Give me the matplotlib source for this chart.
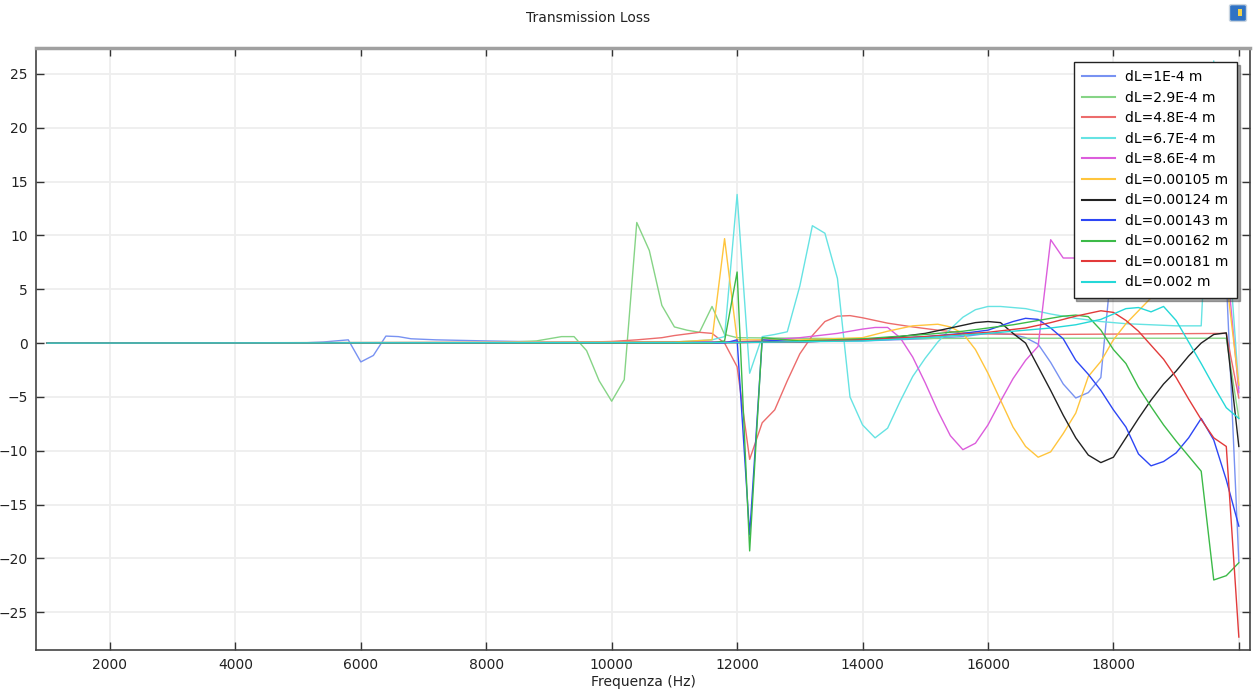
import matplotlib
matplotlib.use("Agg")
import matplotlib.pyplot as plt
from matplotlib.patches import FancyBboxPatch

# transmission loss curves for each gap length dL (frequency in Hz, TL in dB)
labels = ["dL=1E-4 m", "dL=2.9E-4 m", "dL=4.8E-4 m", "dL=6.7E-4 m", "dL=8.6E-4 m",
          "dL=0.00105 m", "dL=0.00124 m", "dL=0.00143 m", "dL=0.00162 m",
          "dL=0.00181 m", "dL=0.002 m"]
colors = ["#7892f2", "#86d486", "#ec6c6c", "#66e3e3", "#dc5ddc", "#ffc53d",
          "#222222", "#2d46f5", "#3cba48", "#e23a3a", "#25d8d8"]

f_1 = [1000, 5000, 5400, 5600, 5800, 6000, 6200, 6400, 6600, 6800, 7200, 8000, 9000,
       10000, 12000, 14000, 15000, 15600, 16000, 16400, 16600, 16800, 17000, 17200,
       17400, 17600, 17800, 18000, 18200, 18600, 19000, 19400, 19800, 20000]
tl_1 = [0.0, 0.0, 0.1, 0.2, 0.3, -1.75, -1.15, 0.65, 0.6, 0.4, 0.3, 0.2, 0.1,
        0.1, 0.1, 0.2, 0.4, 0.6, 0.9, 0.8, 0.5, -0.1, -1.8, -3.8,
        -5.1, -4.6, -3.2, 9.0, 10.5, 10.0, 9.0, 8.5, 6.0, -20.3]

f_2 = [1000, 8000, 8800, 9200, 9400, 9600, 9800, 10000, 10200, 10400, 10600, 10800,
       11000, 11200, 11400, 11600, 11800, 12000, 14000, 16000, 19800, 20000]
tl_2 = [0.0, 0.0, 0.2, 0.6, 0.6, -0.7, -3.5, -5.4, -3.4, 11.2, 8.6, 3.5,
        1.5, 1.2, 1.0, 3.4, 0.8, 0.5, 0.4, 0.45, 0.45, -7.0]

f_3 = [1000, 9000, 10000, 10400, 10800, 11000, 11200, 11400, 11600, 11800, 12000,
       12200, 12400, 12600, 12800, 13000, 13200, 13400, 13600, 13800, 14000, 14200,
       14400, 14800, 15200, 15600, 16000, 17000, 19800, 20000]
tl_3 = [0.0, 0.0, 0.15, 0.3, 0.5, 0.7, 0.85, 1.0, 0.9, 0.0, -2.2,
        -10.8, -7.4, -6.2, -3.5, -1.0, 0.7, 2.0, 2.5, 2.55, 2.35, 2.1,
        1.85, 1.5, 1.2, 0.95, 0.85, 0.8, 0.9, -5.1]

f_4 = [1000, 11000, 11600, 11800, 12000, 12200, 12400, 12600, 12800, 13000, 13200,
       13400, 13600, 13800, 14000, 14200, 14400, 14600, 14800, 15000, 15200, 15400,
       15600, 15800, 16000, 16200, 16600, 17000, 17400, 17800, 18200, 18600, 19000,
       19400, 19600, 19800, 20000]
tl_4 = [0.0, 0.1, 0.3, 0.6, 13.8, -2.8, 0.6, 0.8, 1.05, 5.3, 10.9,
        10.2, 6.0, -5.0, -7.6, -8.8, -7.9, -5.4, -3.1, -1.4, 0.1, 1.3,
        2.4, 3.1, 3.4, 3.4, 3.2, 2.7, 2.3, 2.0, 1.8, 1.7, 1.6,
        1.6, 26.2, 12.0, -4.2]

f_5 = [1000, 12000, 13000, 13600, 13800, 14000, 14200, 14400, 14600, 14800, 15000,
       15200, 15400, 15600, 15800, 16000, 16200, 16400, 16600, 16800, 17000, 17200,
       17400, 17800, 18400, 19000, 19400, 19800, 20000]
tl_5 = [0.0, 0.1, 0.5, 0.9, 1.1, 1.3, 1.45, 1.45, 0.5, -1.3, -3.7,
        -6.3, -8.6, -9.9, -9.3, -7.6, -5.4, -3.3, -1.6, -0.3, 9.6, 7.9,
        7.9, 8.5, 9.0, 9.5, 9.5, 8.0, -4.6]

f_6 = [1000, 11000, 11600, 11800, 12000, 13000, 14000, 14400, 14800, 15200, 15400,
       15600, 15800, 16000, 16200, 16400, 16600, 16800, 17000, 17200, 17400, 17600,
       17800, 18000, 18200, 18400, 18600, 18800, 19200, 19600, 19800, 20000]
tl_6 = [0.0, 0.1, 0.3, 9.7, 0.3, 0.3, 0.5, 1.1, 1.6, 1.75, 1.5,
        0.9, -0.6, -2.8, -5.3, -7.8, -9.6, -10.6, -10.1, -8.4, -6.5, -3.1,
        -1.7, 0.3, 1.8, 3.0, 4.2, 5.5, 7.0, 7.0, 6.0, -3.9]

f_7 = [1000, 12000, 13000, 14000, 14600, 15000, 15400, 15800, 16000, 16200, 16400,
       16600, 16800, 17000, 17200, 17400, 17600, 17800, 18000, 18200, 18400, 18600,
       18800, 19000, 19200, 19400, 19600, 19800, 20000]
tl_7 = [0.0, 0.05, 0.15, 0.3, 0.6, 0.9, 1.4, 1.9, 2.0, 1.9, 0.9,
        0.0, -2.2, -4.4, -6.7, -8.8, -10.4, -11.1, -10.6, -8.8, -7.0, -5.3,
        -3.8, -2.6, -1.2, 0.0, 0.8, 0.95, -9.6]

f_8 = [1000, 11800, 12000, 12200, 12400, 13000, 14000, 15000, 15600, 16000, 16400,
       16600, 16800, 17000, 17200, 17400, 17600, 17800, 18000, 18200, 18400, 18600,
       18800, 19000, 19200, 19400, 19600, 19800, 20000]
tl_8 = [0.0, 0.0, 0.3, -17.8, 0.3, 0.1, 0.3, 0.6, 0.9, 1.2, 2.0,
        2.3, 2.2, 1.4, 0.4, -1.6, -2.9, -4.4, -6.2, -7.8, -10.3, -11.4,
        -11.0, -10.2, -8.8, -7.0, -9.0, -12.7, -17.0]

f_9 = [1000, 11600, 11800, 12000, 12200, 12400, 13000, 14000, 15000, 15600, 16000,
       16400, 16800, 17000, 17200, 17400, 17600, 17800, 18000, 18200, 18400, 18600,
       18800, 19000, 19200, 19400, 19600, 19800, 20000]
tl_9 = [0.0, 0.0, 0.2, 6.6, -19.3, 0.5, 0.2, 0.4, 0.8, 1.1, 1.4,
        1.7, 2.1, 2.3, 2.5, 2.6, 2.45, 1.2, -0.6, -1.9, -4.1, -5.9,
        -7.6, -9.1, -10.5, -11.9, -22.0, -21.6, -20.4]

f_10 = [1000, 12000, 13000, 14000, 15000, 16000, 16600, 17000, 17200, 17400, 17600,
        17800, 18000, 18200, 18400, 18600, 18800, 19000, 19200, 19400, 19600, 19800,
        20000]
tl_10 = [0.0, 0.05, 0.1, 0.3, 0.6, 1.0, 1.4, 1.9, 2.2, 2.5, 2.75,
         3.0, 2.85, 2.1, 1.1, -0.2, -1.5, -3.2, -5.2, -7.1, -8.8, -9.6,
         -27.3]

f_11 = [1000, 12000, 14000, 15000, 16000, 16600, 17000, 17400, 17800, 18000, 18200,
        18400, 18600, 18800, 19000, 19200, 19400, 19600, 19800, 20000]
tl_11 = [0.0, 0.05, 0.2, 0.5, 0.9, 1.2, 1.4, 1.7, 2.2, 2.7, 3.2,
         3.3, 2.9, 3.4, 2.1, 0.1, -1.9, -4.0, -6.0, -7.0]

freqs = [f_1, f_2, f_3, f_4, f_5, f_6, f_7, f_8, f_9, f_10, f_11]
losses = [tl_1, tl_2, tl_3, tl_4, tl_5, tl_6, tl_7, tl_8, tl_9, tl_10, tl_11]

x_ticks = [2000, 4000, 6000, 8000, 10000, 12000, 14000, 16000, 18000, 20000]
x_ticklabels = ["2000", "4000", "6000", "8000", "10000", "12000", "14000",
                "16000", "18000", ""]
y_ticks = [-25, -20, -15, -10, -5, 0, 5, 10, 15, 20, 25]

plt.rcParams["font.family"] = ["DejaVu Sans"]

fig = plt.figure(figsize=(12.53, 6.9), dpi=100)
ax = fig.add_axes([0.0287, 0.058, 0.969, 0.8724])

for f, tl, lab, col in zip(freqs, losses, labels, colors):
    ax.plot(f, tl, color=col, lw=1.0, label=lab)

ax.set_xlim(820, 20180)
ax.set_ylim(-28.5, 27.4)
ax.set_xticks(x_ticks)
ax.set_xticklabels(x_ticklabels)
ax.set_yticks(y_ticks)
ax.grid(True, color="#eeeeee", lw=1.3)
ax.set_axisbelow(True)
ax.tick_params(direction="in", length=6, width=1.0, color="#333333",
               top=True, right=True, labelsize=10, pad=6, labelcolor="#222222")
for sp in ax.spines.values():
    sp.set_color("#444444")
    sp.set_linewidth(1.2)
ax.spines["top"].set_color("#a0a0a0")
ax.spines["top"].set_linewidth(2.5)

ax.set_xlabel("Frequenza (Hz)", fontsize=10, color="#222222", labelpad=2)
fig.text(588 / 1253, 1 - 18 / 690, "Transmission Loss", ha="center", va="center",
         fontsize=10, color="#222222")

leg = ax.legend(loc="upper right", bbox_to_anchor=(0.989, 0.977), borderaxespad=0,
                fontsize=10, handlelength=2.4, handletextpad=0.7, labelspacing=0.47,
                fancybox=False, shadow=True, framealpha=1, edgecolor="#222222",
                borderpad=0.6)
leg.get_frame().set_linewidth(1.0)
for line in leg.get_lines():
    line.set_linewidth(1.5)

# small app logo in the top right corner
fig.add_artist(FancyBboxPatch((1232 / 1253, 1 - 20 / 690), 12 / 1253, 14 / 690,
                              boxstyle="round,pad=0.002", transform=fig.transFigure,
                              facecolor="#2f72c4", edgecolor="#c8d4e0", lw=1))
fig.add_artist(FancyBboxPatch((1238 / 1253, 1 - 16 / 690), 4 / 1253, 7 / 690,
                              boxstyle="square,pad=0", transform=fig.transFigure,
                              facecolor="#f2d24a", edgecolor="none"))

fig.savefig("out.png", dpi=100)
